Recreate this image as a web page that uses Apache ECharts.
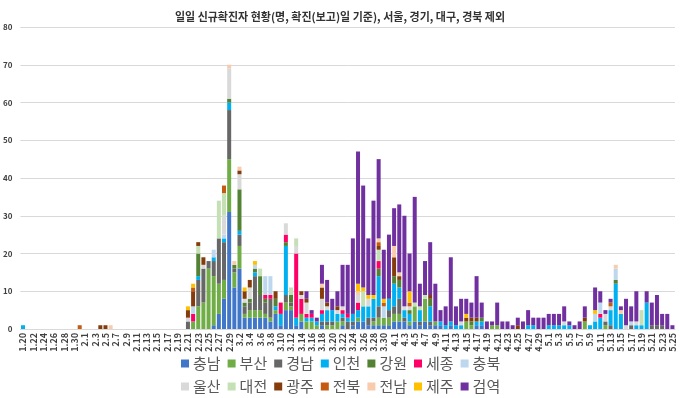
<!DOCTYPE html>
<html>
<head>
<meta charset="utf-8">
<script src="https://cdn.jsdelivr.net/npm/echarts@6/dist/echarts.min.js"></script>
<style>
html, body { margin: 0; padding: 0; background: #fff; }
#chart { width: 680px; height: 398px; }
</style>
</head>
<body>
<div id="chart"></div>
<script>
// 날짜: 1.20 ~ 5.25
var months = [[1, 20, 31], [2, 1, 29], [3, 1, 31], [4, 1, 30], [5, 1, 25]];
var dates = [];
months.forEach(function (m) {
    for (var d = m[1]; d <= m[2]; d++) dates.push(m[0] + '.' + d);
});

var names = ['충남', '부산', '경남', '인천', '강원', '세종', '충북',
             '울산', '대전', '광주', '전북', '전남', '제주', '검역'];
var colors = ['#4177C9', '#70AD47', '#676767', '#00B0F0', '#548235', '#FF0066', '#BDD7EE',
              '#D9D9D9', '#C5E0B4', '#843C0C', '#C55A11', '#F8CBAD', '#FFC000', '#7030A0'];

// 각 배열: 1월(20-31) | 2월 | 3월 | 4월 | 5월(1-25)
var chungnam = [
    0,0,0,0,0,0,0,0,0,0,0,0,
    0,0,0,0,0,0,0,0,0,0, 0,0,0,0,0,0,0,0,0,0, 0,0,0,0,0,1,4,8,31,
    11,16,3,3,3,3,3,2,4,1, 5,5,1,2,0,0,0,1,0,0, 0,1,0,1,2,2,1,1,1,1, 1,
    2,2,2,1,2,1,2,1,1,1, 0,1,0,0,0,0,1,1,0,0, 0,0,0,0,0,0,0,0,0,0,
    0,0,0,0,0,0,0,0,0,0, 0,0,0,0,0,0,0,0,0,0, 0,0,0,0,0
];
var busan = [
    0,0,0,0,0,0,0,0,0,0,0,0,
    0,0,0,0,0,0,0,0,0,0, 0,0,0,0,0,0,0,0,0,0, 0,2,6,7,16,13,8,5,14,
    4,6,1,2,2,2,1,1,1,0, 2,1,0,2,2,2,1,0,1,1, 2,1,0,0,1,0,0,1,2,2, 2,
    2,2,0,1,4,0,6,0,1,0, 0,0,0,0,2,1,0,0,0,1, 1,0,0,0,0,0,0,0,0,0,
    0,0,0,0,0,0,0,2,0,0, 0,1,0,0,0,0,0,0,0,0, 0,0,0,0,0
];
var gyeongnam = [
    0,0,0,0,0,0,0,0,0,0,0,0,
    0,0,0,0,0,0,0,0,0,0, 0,0,0,0,0,0,0,0,0,0, 2,0,7,9,2,4,12,10,13,
    1,3,2,2,9,4,3,5,0,0, 2,1,0,0,0,0,0,1,1,1, 0,1,2,1,0,0,2,1,3,0, 2,
    2,4,1,0,0,1,0,1,0,0, 0,0,0,0,0,0,0,0,0,0, 0,0,0,0,0,0,0,0,0,0,
    0,0,0,0,0,0,0,0,0,0, 0,1,1,0,0,0,1,0,0,0, 1,1,1,0,0
];
var incheon = [
    1,0,0,0,0,0,0,0,0,0,0,0,
    0,0,0,0,0,0,0,0,0,0, 0,0,0,0,0,0,0,0,0,0, 0,0,1,0,0,1,0,1,2,
    0,1,0,0,1,0,0,0,1,3, 13,0,2,0,1,1,1,2,3,3, 2,1,1,2,2,4,3,5,8,0, 3,
    6,3,2,2,0,3,0,4,0,1, 1,1,1,1,0,0,1,1,0,0, 0,0,0,0,0,0,1,1,0,0,
    1,1,1,1,1,0,0,0,1,2, 3,0,4,12,4,0,0,1,1,7, 0,0,0,0,0
];
var gangwon = [
    0,0,0,0,0,0,0,0,0,0,0,0,
    0,0,0,0,0,0,0,0,0,0, 0,0,0,0,0,0,0,0,0,0, 0,0,6,0,0,0,0,0,1,
    1,11,1,1,1,5,1,0,2,0, 1,2,0,0,0,0,0,0,0,0, 0,0,0,0,0,0,0,0,2,0, 0,
    2,2,0,1,0,0,0,2,0,0, 0,0,0,0,0,1,0,1,0,0, 0,0,0,0,0,0,0,0,0,0,
    0,0,0,0,0,0,0,0,0,0, 0,0,0,1,0,0,0,0,0,0, 0,0,0,0,0
];
var sejong = [
    0,0,0,0,0,0,0,0,0,0,0,0,
    0,0,0,0,0,0,0,0,0,0, 0,0,0,0,0,0,0,0,0,0, 0,2,0,0,0,0,0,0,0,
    0,0,0,0,0,0,1,1,0,3, 2,0,17,4,1,1,0,1,0,0, 0,1,1,0,2,0,0,0,2,0, 0,
    0,0,0,0,0,0,0,0,0,0, 0,0,0,0,0,0,0,0,0,0, 0,0,0,0,0,0,0,0,0,0,
    0,0,0,0,0,0,0,0,0,0, 1,0,0,0,0,0,0,0,0,0, 0,0,0,0,0
];
var chungbuk = [
    0,0,0,0,0,0,0,0,0,0,0,0,
    0,0,0,0,0,0,0,0,0,0, 0,0,0,0,0,0,0,0,0,0, 0,2,0,0,0,2,0,1,0,
    0,0,0,0,1,0,5,5,0,0, 0,0,0,0,0,0,0,0,0,0, 0,0,0,0,0,0,0,0,0,3, 0,
    0,0,0,0,0,0,0,0,0,0, 0,0,0,0,0,0,0,0,0,0, 0,0,0,0,0,0,0,0,0,0,
    0,0,0,0,0,0,0,0,0,2, 3,0,0,3,0,0,1,0,0,0, 0,0,0,0,0
];
var ulsan = [
    0,0,0,0,0,0,0,0,0,0,0,0,
    0,0,0,0,0,0,0,0,0,0, 0,0,0,0,0,0,0,0,0,0, 1,0,0,1,0,0,0,5,8,
    0,4,1,3,0,0,0,0,0,0, 3,0,2,1,3,0,0,3,1,0, 1,1,0,0,2,0,2,0,0,0, 0,
    0,0,1,1,0,0,0,0,0,0, 0,0,0,1,0,0,0,0,0,0, 0,0,0,0,0,0,0,0,0,0,
    0,0,0,1,0,0,0,0,0,0, 0,2,1,0,0,1,0,1,0,0, 0,0,0,0,0
];
var daejeon = [
    0,0,0,0,0,0,0,0,0,0,0,0,
    0,0,0,0,0,0,0,0,0,0, 0,0,0,0,0,0,0,0,0,0, 0,0,2,0,0,0,10,6,0,
    0,0,0,0,0,2,0,0,0,0, 0,2,2,0,0,0,0,0,0,0, 0,0,0,0,0,4,0,0,3,0, 0,
    0,0,0,0,1,1,1,0,0,0, 0,0,0,0,0,0,0,0,0,0, 0,0,0,0,0,0,0,0,0,0,
    0,0,0,0,0,0,0,0,0,0, 0,0,0,0,0,0,0,0,4,0, 0,0,0,0,0
];
var gwangju = [
    0,0,0,0,0,0,0,0,0,0,0,0,
    0,0,0,1,1,0,0,0,0,0, 0,0,0,0,0,0,0,0,0,0, 2,4,1,2,0,0,0,0,0,
    0,1,2,2,0,0,0,0,2,0, 0,0,0,1,1,0,0,3,1,0, 1,0,0,0,0,0,0,0,1,0, 0,
    5,1,0,0,0,0,0,1,0,0, 0,0,0,0,1,1,1,0,0,0, 0,0,0,0,1,0,0,0,0,0,
    0,0,0,0,0,0,0,1,0,0, 0,0,0,0,0,0,0,0,0,0, 0,0,0,0,0
];
var jeonbuk = [
    0,0,0,0,0,0,0,0,0,0,0,1,
    0,0,0,0,0,0,0,0,0,0, 0,0,0,0,0,0,0,0,0,0, 0,1,0,0,0,0,0,2,0,
    0,0,0,0,0,0,0,0,0,0, 0,0,0,0,0,0,0,0,0,0, 0,0,0,0,0,0,0,0,1,1, 0,
    0,0,0,1,0,0,0,0,0,0, 0,0,0,0,0,0,0,0,0,0, 0,0,0,0,0,0,0,0,0,0,
    0,0,0,0,0,0,0,0,0,0, 0,0,1,0,0,0,0,0,0,0, 0,0,0,0,0
];
var jeonnam = [
    0,0,0,0,0,0,0,0,0,0,0,0,
    0,0,0,0,0,1,0,0,0,0, 0,0,0,0,0,0,0,0,0,0, 0,0,0,0,0,0,0,0,1,
    1,1,0,0,0,0,0,0,0,0, 0,0,0,0,0,0,0,1,0,0, 0,0,0,0,1,0,0,0,1,0, 0,
    3,1,0,0,0,0,0,0,0,0, 0,0,0,0,0,0,0,0,0,0, 0,0,0,0,0,0,0,0,0,0,
    0,0,0,0,0,0,0,0,0,0, 0,0,0,1,1,0,0,0,0,0, 0,0,0,0,0
];
var jeju = [
    0,0,0,0,0,0,0,0,0,0,0,0,
    0,0,0,0,0,0,0,0,0,0, 0,0,0,0,0,0,0,0,0,0, 1,1,0,0,0,0,0,0,0,
    0,0,1,0,1,0,0,0,0,0, 0,0,0,0,0,0,0,0,0,0, 0,0,0,0,2,1,1,1,0,1, 0,
    0,0,0,3,0,0,0,0,0,0, 0,0,0,0,1,0,0,0,0,0, 0,0,0,0,0,0,0,0,0,0,
    0,0,0,0,0,0,0,0,0,1, 0,0,0,0,0,0,0,0,0,0, 0,0,0,0,0
];
var quarantine = [
    0,0,0,0,0,0,0,0,0,0,0,0,
    0,0,0,0,0,0,0,0,0,0, 0,0,0,0,0,0,0,0,0,0, 0,0,0,0,0,0,0,0,0,
    0,0,0,0,0,0,0,0,0,0, 0,0,0,0,2,1,1,5,6,3, 4,11,13,20,35,27,15,25,21,13, 17,
    10,18,24,10,28,6,9,14,10,3, 5,17,5,6,4,4,11,4,2,1, 6,2,2,1,2,2,4,2,3,3,
    3,3,3,4,1,1,2,3,0,6, 3,1,1,0,1,7,4,8,0,3, 6,8,3,4,1
];
var seriesData = [chungnam, busan, gyeongnam, incheon, gangwon, sejong, chungbuk,
                  ulsan, daejeon, gwangju, jeonbuk, jeonnam, jeju, quarantine];
var yTicks = [0, 10, 20, 30, 40, 50, 60, 70, 80];

var chart = echarts.init(document.getElementById('chart'));
var font = '"Noto Sans CJK KR", "Noto Sans", sans-serif';

var legendStyle = {
    left: 181,
    itemWidth: 8,
    itemHeight: 8,
    itemGap: 7,
    icon: 'rect',
    padding: 0,
    textStyle: { fontSize: 15, color: '#595959', fontFamily: font, padding: [0, 0, 0, -1] }
};

var option = {
    animation: false,
    color: colors,
    title: {
        text: '일일 신규확진자 현황(명, 확진(보고)일 기준), 서울, 경기, 대구, 경북 제외',
        left: 'center',
        top: 6,
        textStyle: { fontSize: 11, fontWeight: 'bold', color: '#333', fontFamily: font }
    },
    legend: [
        Object.assign({ top: 356, data: names.slice(0, 7) }, legendStyle),
        Object.assign({ top: 379, data: names.slice(7) }, legendStyle)
    ],
    grid: { left: 19, right: 5, top: 27, bottom: 69 },
    xAxis: {
        type: 'category',
        data: dates,
        axisTick: { show: false },
        axisLine: { lineStyle: { color: '#d9d9d9' } },
        axisLabel: {
            interval: 1,
            rotate: 90,
            fontSize: 9,
            fontWeight: 'bold',
            color: '#404040',
            margin: 4,
            fontFamily: font
        }
    },
    yAxis: {
        type: 'value',
        min: yTicks[0],
        max: yTicks[yTicks.length - 1],
        interval: 10,
        axisLine: { show: false },
        axisTick: { show: false },
        splitLine: { lineStyle: { color: '#d9d9d9' } },
        axisLabel: { fontSize: 8, fontWeight: 'bold', color: '#404040', margin: 8, fontFamily: font }
    },
    series: names.map(function (n, i) {
        return {
            name: n,
            type: 'bar',
            stack: 'total',
            barWidth: 4,
            data: seriesData[i]
        };
    })
};
chart.setOption(option);
</script>
</body>
</html>
